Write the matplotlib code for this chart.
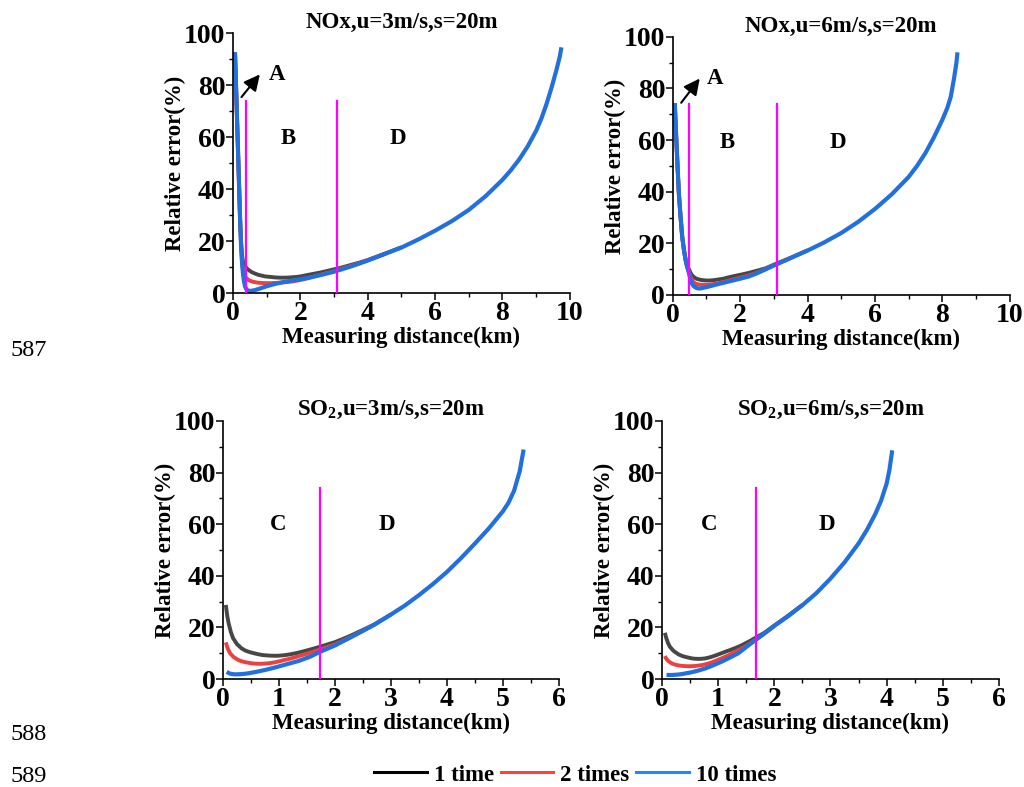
import matplotlib
matplotlib.use('Agg')
import matplotlib.pyplot as plt
from matplotlib.lines import Line2D
from matplotlib.ticker import MultipleLocator

# fonts: Times-like bold everywhere
plt.rcParams['font.family'] = ['Liberation Serif', 'DejaVu Serif']
plt.rcParams['font.weight'] = 'bold'
plt.rcParams['axes.labelweight'] = 'bold'
plt.rcParams['axes.titleweight'] = 'bold'
plt.rcParams['mathtext.fontset'] = 'custom'
plt.rcParams['mathtext.rm'] = 'Liberation Serif:bold'
plt.rcParams['mathtext.bf'] = 'Liberation Serif:bold'

# ---- NOx, u=3m/s ----
nox3_x_1 = [0.06, 0.10, 0.14, 0.18, 0.21, 0.24, 0.27, 0.30, 0.34, 0.40, 0.48, 0.55, 0.65, 0.75, 0.85, 0.95,
            1.1, 1.25, 1.4, 1.55, 1.7, 1.9, 2.05, 2.2, 2.4, 2.6, 2.8, 3.03, 3.25, 3.5, 3.75, 4.0, 4.5, 5.0]
nox3_y_1 = [92.7, 76, 59, 42, 29, 19.5, 14.5, 12, 10.8, 9.6, 8.7, 8.1, 7.5, 7.0, 6.7, 6.4,
            6.2, 6.0, 5.9, 5.9, 6.0, 6.2, 6.5, 6.9, 7.4, 7.9, 8.5, 9.2, 9.9, 10.8, 11.7, 12.7, 15.1, 17.6]
nox3_x_2 = [0.06, 0.10, 0.14, 0.18, 0.21, 0.24, 0.27, 0.30, 0.33, 0.36, 0.41, 0.46, 0.53, 0.6, 0.7, 0.8, 0.95,
            1.1, 1.3, 1.5, 1.75, 2.0, 2.2, 2.45, 2.73, 3.0, 3.2, 3.5, 4.0, 4.5]
nox3_y_2 = [92.7, 76, 59, 42, 29, 18.5, 12, 8.5, 7.0, 6.3, 5.6, 5.0, 4.6, 4.3, 4.05, 3.9, 3.8,
            3.8, 3.9, 4.1, 4.4, 5.0, 5.6, 6.5, 7.5, 8.4, 9.3, 10.4, 12.6, 15.0]
nox3_x_10 = [0.06, 0.10, 0.14, 0.18, 0.21, 0.24, 0.27, 0.30, 0.33, 0.36, 0.40, 0.45, 0.52, 0.65, 0.8, 1.0,
             1.25, 1.5, 1.75, 2.0, 2.25, 2.6, 3.0, 3.5, 4.0, 4.5, 5.0, 5.5, 6.0, 6.5, 7.0, 7.5, 8.0,
             8.25, 8.5, 8.75, 9.0, 9.15, 9.3, 9.45, 9.6, 9.7, 9.75]
nox3_y_10 = [92.7, 76, 59, 42, 29, 18.5, 11.5, 7.0, 4.3, 2.5, 1.4, 0.9, 0.8, 1.1, 1.7, 2.6,
             3.5, 4.2, 4.8, 5.3, 5.9, 6.9, 8.2, 10.2, 12.5, 15.0, 17.5, 20.6, 24.0, 27.7, 32.0, 37.3, 43.6,
             47.3, 51.5, 56.5, 62.5, 67, 72.5, 78.8, 85.8, 91, 94.6]

# ---- NOx, u=6m/s ----
nox6_x_1 = [0.06, 0.085, 0.11, 0.145, 0.18, 0.23, 0.28, 0.33, 0.38, 0.43, 0.48, 0.52, 0.56, 0.62, 0.7, 0.78,
            0.85, 0.95, 1.05, 1.15, 1.25, 1.5, 1.74, 2.0, 2.24, 2.5, 2.75, 3.03, 3.5, 4.0]
nox6_y_1 = [74.3, 66, 58.9, 49, 39.5, 30.5, 22.6, 17.6, 13.6, 10.8, 10, 8.8, 7.8, 7.0, 6.3, 6.0,
            5.8, 5.65, 5.6, 5.65, 5.8, 6.3, 7.1, 7.8, 8.5, 9.4, 10.3, 11.9, 14.4, 17.3]
nox6_x_2 = [0.06, 0.085, 0.11, 0.145, 0.18, 0.23, 0.28, 0.33, 0.38, 0.43, 0.48, 0.52, 0.56, 0.6, 0.65, 0.72,
            0.8, 0.95, 1.1, 1.25, 1.5, 1.74, 2.0, 2.24, 2.5, 2.75, 3.03, 3.5]
nox6_y_2 = [74.3, 66, 58.9, 49, 39.5, 30.5, 22.6, 17.6, 13.6, 10.8, 9, 7.3, 6.0, 5.2, 4.6, 4.2,
            4.0, 3.9, 4.0, 4.3, 5.0, 5.8, 6.7, 7.5, 8.6, 10.0, 11.7, 14.3]
nox6_x_10 = [0.06, 0.085, 0.11, 0.145, 0.18, 0.23, 0.28, 0.33, 0.38, 0.43, 0.48, 0.52, 0.56, 0.62, 0.7, 0.78,
             0.85, 0.95, 1.05, 1.25, 1.5, 1.75, 2.0, 2.24, 2.5, 2.75, 3.03, 3.5, 4.0, 4.5, 5.0, 5.5, 6.0,
             6.5, 7.0, 7.25, 7.5, 7.75, 8.0, 8.15, 8.25, 8.35, 8.42, 8.45]
nox6_y_10 = [74.3, 66, 58.9, 49, 39.5, 30.5, 22.6, 17.6, 13.6, 10.8, 8.5, 6.3, 4.6, 3.4, 2.7, 2.5,
             2.6, 2.9, 3.2, 3.9, 4.7, 5.5, 6.3, 7.1, 8.4, 9.9, 11.6, 14.3, 17.2, 20.4, 24, 28.3, 33.3,
             39, 45.7, 50, 55, 61, 67.8, 72.5, 76.7, 84, 90, 94]

# ---- SO2, u=3m/s ----
so23_x_1 = [0.05, 0.075, 0.1, 0.14, 0.18, 0.25, 0.33, 0.4, 0.48, 0.55, 0.63, 0.7, 0.78, 0.85, 0.93, 1.0,
            1.08, 1.15, 1.23, 1.3, 1.38, 1.45, 1.52, 1.62, 1.73, 1.85, 2.0, 2.15, 2.33, 2.7, 3.0]
so23_y_1 = [28.7, 24.5, 21.6, 18.2, 15.8, 13.5, 11.9, 11.0, 10.4, 10.0, 9.6, 9.3, 9.15, 9.05, 9.0, 9.05,
            9.2, 9.4, 9.7, 10.0, 10.4, 10.8, 11.2, 11.8, 12.5, 13.3, 14.3, 15.6, 17.3, 21.1, 25.0]
so23_x_2 = [0.05, 0.08, 0.125, 0.19, 0.27, 0.33, 0.4, 0.51, 0.58, 0.66, 0.73, 0.81, 0.88, 0.95, 1.03, 1.1,
            1.18, 1.25, 1.33, 1.4, 1.5, 1.6, 1.73, 1.85, 2.0, 2.33, 2.7]
so23_y_2 = [14.2, 12.0, 10.0, 8.5, 7.4, 6.9, 6.5, 6.1, 5.95, 5.9, 5.95, 6.1, 6.3, 6.6, 7.0, 7.4,
            7.8, 8.2, 8.7, 9.2, 9.8, 10.5, 11.4, 12.3, 13.4, 16.8, 21.0]
so23_x_10 = [0.065, 0.12, 0.21, 0.33, 0.45, 0.6, 0.75, 0.9, 1.05, 1.2, 1.35, 1.55, 1.73, 2.0, 2.33, 2.7,
             3.0, 3.25, 3.5, 3.75, 4.0, 4.25, 4.5, 4.75, 5.0, 5.1, 5.2, 5.3, 5.37]
so23_y_10 = [2.8, 2.1, 1.8, 1.9, 2.2, 2.8, 3.5, 4.3, 5.2, 6.1, 7.0, 8.6, 10.5, 13.0, 16.7, 21.0,
             25.0, 28.5, 32.5, 36.8, 41.5, 46.8, 52.5, 58.4, 65.0, 68.3, 73.0, 80.5, 88.9]

# ---- SO2, u=6m/s ----
so26_x_1 = [0.05, 0.08, 0.11, 0.14, 0.2, 0.29, 0.35, 0.41, 0.47, 0.53, 0.59, 0.65, 0.71, 0.77, 0.84, 0.91,
            0.98, 1.06, 1.13, 1.21, 1.28, 1.36, 1.43, 1.5, 1.58, 1.65, 1.83, 2.0, 2.25, 2.5]
so26_y_1 = [17.9, 15.6, 13.8, 12.5, 11.0, 9.6, 9.0, 8.6, 8.3, 8.0, 7.85, 7.8, 7.85, 8.0, 8.35, 8.8,
            9.35, 10.0, 10.6, 11.2, 11.8, 12.5, 13.2, 14.0, 14.9, 15.8, 18.0, 20.7, 24.6, 28.7]
so26_x_2 = [0.05, 0.08, 0.12, 0.17, 0.23, 0.29, 0.35, 0.41, 0.48, 0.56, 0.63, 0.71, 0.8, 0.88, 0.97, 1.06,
            1.13, 1.2, 1.28, 1.36, 1.43, 1.5, 1.67, 1.83, 2.0]
so26_y_2 = [8.9, 7.7, 6.8, 6.1, 5.6, 5.3, 5.1, 5.0, 4.95, 5.0, 5.15, 5.4, 5.85, 6.4, 7.2, 8.0,
            8.7, 9.4, 10.3, 11.2, 12.0, 12.8, 15.3, 17.7, 20.5]
so26_x_10 = [0.08, 0.14, 0.2, 0.27, 0.35, 0.42, 0.5, 0.58, 0.65, 0.77, 0.9, 1.06, 1.2, 1.36, 1.5, 1.67,
             1.83, 2.0, 2.25, 2.5, 2.75, 3.0, 3.25, 3.5, 3.65, 3.8, 3.9, 4.0, 4.05, 4.1]
so26_y_10 = [1.6, 1.55, 1.6, 1.7, 1.9, 2.2, 2.5, 2.9, 3.3, 4.1, 5.2, 6.7, 8.2, 10.0, 12.4, 15.2,
             17.8, 20.6, 24.4, 28.6, 33.3, 38.9, 45.2, 52.5, 57.8, 64, 69, 75.7, 81, 88.6]

# zone boundaries (km) and region labels
nox3_bounds = [0.39, 3.09]
nox6_bounds = [0.47, 3.09]
so23_bounds = [1.73]
so26_bounds = [1.67]
bound_top = 74

titles = ['NOx,u=3m/s,s=20m', 'NOx,u=6m/s,s=20m',
          r'SO$_{\mathbf{2}}$,u=3m/s,s=20m', r'SO$_{\mathbf{2}}$,u=6m/s,s=20m']
legend_labels = ['1 time', '2 times', '10 times']

c_black = '#474747'
c_red = '#ec4141'
c_blue = '#2170de'
c_mag = '#ff00ff'

fig = plt.figure(figsize=(10.24, 7.87), dpi=100)

# axes positions measured from the page
ax1 = fig.add_axes([0.2275, 0.6277, 0.329, 0.330])
ax2 = fig.add_axes([0.657, 0.6252, 0.329, 0.328])
ax3 = fig.add_axes([0.2178, 0.1372, 0.328, 0.328])
ax4 = fig.add_axes([0.6465, 0.1372, 0.329, 0.328])


def style_axes(ax, xmax, xmajor, title):
    ax.set_xlim(0, xmax)
    ax.set_ylim(0, 100)
    ax.spines['top'].set_visible(False)
    ax.spines['right'].set_visible(False)
    ax.spines['left'].set_linewidth(1.2)
    ax.spines['bottom'].set_linewidth(1.2)
    ax.xaxis.set_major_locator(MultipleLocator(xmajor))
    ax.xaxis.set_minor_locator(MultipleLocator(xmajor / 2))
    ax.yaxis.set_major_locator(MultipleLocator(20))
    ax.yaxis.set_minor_locator(MultipleLocator(10))
    ax.tick_params(which='major', direction='out', length=5, width=1.1, labelsize=20, pad=1)
    ax.tick_params(which='minor', direction='out', length=3, width=1.0)
    ax.tick_params(axis='y', pad=0.5)
    ax.set_xlabel('Measuring distance(km)', fontsize=16.5)
    ax.set_ylabel('Relative error(%)', fontsize=16.5)
    ax.xaxis.set_label_coords(0.5, -0.13)
    ax.yaxis.set_label_coords(-0.14, 0.5)
    ax.set_title(title, fontsize=16.5, pad=1)


def draw_curves(ax, x1, y1, x2, y2, x10, y10):
    ax.plot(x1, y1, color=c_black, lw=2.8, clip_on=False, solid_capstyle='butt', solid_joinstyle='round')
    ax.plot(x2, y2, color=c_red, lw=2.8, clip_on=False, solid_capstyle='butt', solid_joinstyle='round')
    ax.plot(x10, y10, color=c_blue, lw=3.0, clip_on=False, solid_capstyle='butt', solid_joinstyle='round')


def draw_bounds(ax, bounds):
    for b in bounds:
        ax.plot([b, b], [0, bound_top], color=c_mag, lw=1.6, zorder=5)


# NOx u=3
draw_curves(ax1, nox3_x_1, nox3_y_1, nox3_x_2, nox3_y_2, nox3_x_10, nox3_y_10)
draw_bounds(ax1, nox3_bounds)
style_axes(ax1, 10, 2, titles[0])
ax1.annotate('', xy=(0.85, 85), xytext=(0.2, 74.6),
             arrowprops=dict(arrowstyle='-|>', color='k', lw=1.5, mutation_scale=24))
ax1.text(1.3, 84, 'A', fontsize=16.5, ha='center', va='center')
ax1.text(1.63, 59.6, 'B', fontsize=16.5, ha='center', va='center')
ax1.text(4.9, 59.6, 'D', fontsize=16.5, ha='center', va='center')

# NOx u=6
draw_curves(ax2, nox6_x_1, nox6_y_1, nox6_x_2, nox6_y_2, nox6_x_10, nox6_y_10)
draw_bounds(ax2, nox6_bounds)
style_axes(ax2, 10, 2, titles[1])
ax2.annotate('', xy=(0.85, 84.7), xytext=(0.2, 73.6),
             arrowprops=dict(arrowstyle='-|>', color='k', lw=1.5, mutation_scale=24))
ax2.text(1.25, 83.7, 'A', fontsize=16.5, ha='center', va='center')
ax2.text(1.63, 59, 'B', fontsize=16.5, ha='center', va='center')
ax2.text(4.9, 59, 'D', fontsize=16.5, ha='center', va='center')

# SO2 u=3
draw_curves(ax3, so23_x_1, so23_y_1, so23_x_2, so23_y_2, so23_x_10, so23_y_10)
draw_bounds(ax3, so23_bounds)
style_axes(ax3, 6, 1, titles[2])
ax3.text(0.98, 59.7, 'C', fontsize=16.5, ha='center', va='center')
ax3.text(2.93, 59.7, 'D', fontsize=16.5, ha='center', va='center')

# SO2 u=6
draw_curves(ax4, so26_x_1, so26_y_1, so26_x_2, so26_y_2, so26_x_10, so26_y_10)
draw_bounds(ax4, so26_bounds)
style_axes(ax4, 6, 1, titles[3])
ax4.text(0.84, 59.7, 'C', fontsize=16.5, ha='center', va='center')
ax4.text(2.94, 59.7, 'D', fontsize=16.5, ha='center', va='center')

# shared legend at the bottom
handles = [Line2D([], [], color='#000000', lw=2.2),
           Line2D([], [], color='#ff4040', lw=2.2),
           Line2D([], [], color='#1e88ff', lw=2.2)]
fig.legend(handles, legend_labels, loc='center', bbox_to_anchor=(575 / 1024, 1 - 775 / 787),
           ncol=3, frameon=False, handlelength=2.3, handletextpad=0.3, columnspacing=0.3,
           prop={'family': 'Liberation Serif', 'weight': 'bold', 'size': 16.5})

# manuscript line numbers
for num, ypix in [('587', 351), ('588', 735), ('589', 776)]:
    fig.text(10 / 1024, 1 - ypix / 787, num, fontsize=17.5, fontweight='normal', va='center', ha='left')

fig.savefig('out.png', dpi=100)
